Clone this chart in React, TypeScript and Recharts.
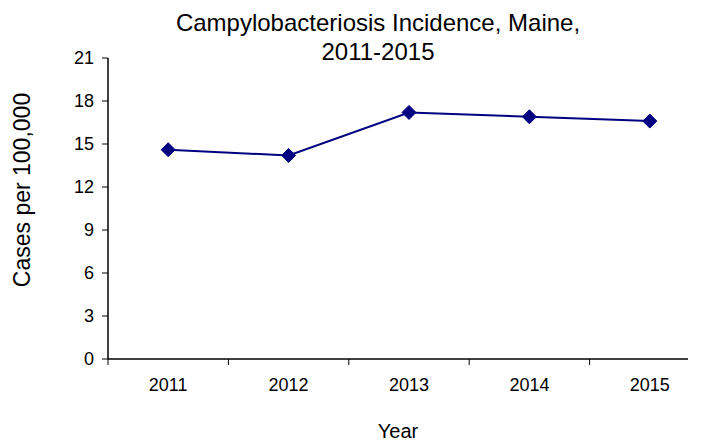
import { LineChart, Line, XAxis, YAxis } from "recharts";

const years = ["2011", "2012", "2013", "2014", "2015"];
const incidence = [14.6, 14.2, 17.2, 16.9, 16.6];
const yTicks = [0, 3, 6, 9, 12, 15, 18, 21];

const chartData = years.map((year, i) => ({ year, rate: incidence[i] }));

const font = "Arial, 'Liberation Sans', sans-serif";

// label at band centre, tick mark at the band's left edge (Excel style)
const YearTick = (props: any) => {
  const { x, y, payload, width, visibleTicksCount } = props;
  const band = width / visibleTicksCount;
  const edge = x - band / 2;
  return (
    <g>
      <line x1={edge} y1={y - 6} x2={edge} y2={y} stroke="#000" strokeWidth={1} />
      <text x={x} y={y + 26} textAnchor="middle" fontSize={18} fill="#000" fontFamily={font}>
        {payload.value}
      </text>
    </g>
  );
};

const Diamond = (props: any) => {
  const { cx, cy } = props;
  if (cx == null || cy == null) return null;
  const r = 7;
  return (
    <polygon
      points={`${cx},${cy - r} ${cx + r},${cy} ${cx},${cy + r} ${cx - r},${cy}`}
      fill="#000080"
      stroke="#000080"
    />
  );
};

export default function App() {
  return (
    <div style={{ position: "relative", width: 680, height: 437, overflow: "hidden", fontFamily: font }}>
      <div
        style={{
          position: "absolute",
          left: 0,
          top: 0,
          width: 740,
          textAlign: "center",
          fontSize: 24,
          lineHeight: "29px",
          color: "#000",
        }}
      >
        Campylobacteriosis Incidence, Maine,
        <br />
        2011-2015
      </div>
      <div
        style={{
          position: "absolute",
          left: -136,
          top: 170,
          width: 300,
          height: 24,
          lineHeight: "24px",
          textAlign: "center",
          fontSize: 23,
          transform: "rotate(-90deg)",
          color: "#000",
        }}
      >
        Cases per 100,000
      </div>
      <div
        style={{
          position: "absolute",
          left: 290,
          top: 412,
          width: 200,
          textAlign: "center",
          fontSize: 20,
          color: "#000",
        }}
      >
        Year
      </div>
      <LineChart
        width={710}
        height={437}
        data={chartData}
        margin={{ top: 50, right: 8, left: 40, bottom: 56 }}
      >
        <XAxis
          dataKey="year"
          scale="band"
          height={30}
          tickLine={false}
          tickSize={6}
          tickMargin={0}
          axisLine={{ stroke: "#000", strokeWidth: 1.5 }}
          tick={<YearTick />}
          interval={0}
        />
        <YAxis
          width={60}
          domain={[0, 21]}
          ticks={yTicks}
          interval={0}
          tickSize={6}
          tickMargin={8}
          axisLine={{ stroke: "#000", strokeWidth: 1.5 }}
          tickLine={{ stroke: "#000" }}
          tick={{ fill: "#000", fontSize: 18, fontFamily: font }}
        />
        <Line
          dataKey="rate"
          stroke="#000080"
          strokeWidth={2}
          dot={<Diamond />}
          activeDot={false}
          isAnimationActive={false}
        />
      </LineChart>
    </div>
  );
}
